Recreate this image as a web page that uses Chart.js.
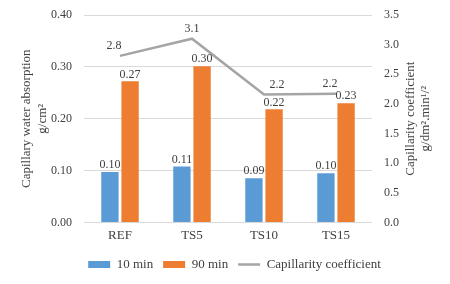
<!DOCTYPE html>
<html>
<head>
<meta charset="utf-8">
<script src="https://cdn.jsdelivr.net/npm/chart.js@4"></script>
<style>
  html, body { margin: 0; padding: 0; background: #fff; }
  #wrap { width: 450px; height: 284px; }
</style>
</head>
<body>
<div id="wrap"><canvas id="myChart"></canvas></div>
<script>
// chart data
const categories = ['REF', 'TS5', 'TS10', 'TS15'];
const abs10min = [0.097, 0.108, 0.085, 0.095];
const abs90min = [0.272, 0.301, 0.218, 0.230];
const capCoef = [2.81, 3.10, 2.16, 2.17];
const leftTicks = [0, 0.1, 0.2, 0.3, 0.4];
const rightTicks = [0, 0.5, 1, 1.5, 2, 2.5, 3, 3.5];

const fontFam = '"Liberation Serif", "Times New Roman", serif';
const txtColor = '#404040';

/* label offsets for the line values (excel nudges them a bit) */
const lineLabelDx = [-6, 0, 13, -6];

const labelPlugin = {
  id: 'valueLabels',
  afterDatasetsDraw(chart) {
    const ctx = chart.ctx;
    ctx.save();
    ctx.font = '12px ' + fontFam;
    ctx.fillStyle = txtColor;
    ctx.textAlign = 'center';
    ctx.textBaseline = 'bottom';
    chart.data.datasets.forEach(function(ds, i) {
      const meta = chart.getDatasetMeta(i);
      meta.data.forEach(function(el, j) {
        if (ds.type === 'line') {
          ctx.fillText(ds.data[j].toFixed(1), el.x + lineLabelDx[j], el.y - 4);
        } else {
          ctx.fillText(ds.data[j].toFixed(2), el.x, el.y - 1);
        }
      });
    });
    ctx.restore();
  },
  afterDraw(chart) {
    /* right axis title reads bottom-to-top like the left one */
    const s = chart.scales.y2;
    const ctx = chart.ctx;
    ctx.save();
    ctx.font = '13px ' + fontFam;
    ctx.fillStyle = txtColor;
    ctx.textAlign = 'center';
    ctx.textBaseline = 'middle';
    const cy = (s.top + s.bottom) / 2;
    ctx.translate(s.left + 39, cy);
    ctx.rotate(-Math.PI / 2);
    ctx.fillText('Capillarity coefficient', 0, 0);
    ctx.fillText('g/dm\u00B2.min\u00B9/\u00B2', 0, 15);
    ctx.restore();
  }
};

const ctx = document.getElementById('myChart').getContext('2d');
const myChart = new Chart(ctx, {
  type: 'bar',
  data: {
    labels: categories,
    datasets: [
      {
        label: '10 min',
        data: abs10min,
        backgroundColor: '#5B9BD5',
        yAxisID: 'y',
        pointStyle: 'rect',
        barPercentage: 0.86,
        categoryPercentage: 0.56,
        order: 2
      },
      {
        label: '90 min',
        data: abs90min,
        backgroundColor: '#ED7D31',
        yAxisID: 'y',
        pointStyle: 'rect',
        barPercentage: 0.86,
        categoryPercentage: 0.56,
        order: 2
      },
      {
        type: 'line',
        label: 'Capillarity coefficient',
        data: capCoef,
        borderColor: '#A5A5A5',
        backgroundColor: '#A5A5A5',
        borderWidth: 2.5,
        pointRadius: 0,
        pointStyle: 'line',
        tension: 0,
        yAxisID: 'y2',
        order: 1
      }
    ]
  },
  options: {
    responsive: true,
    maintainAspectRatio: false,
    animation: false,
    layout: { padding: { top: 15, left: 19, right: 0, bottom: 3 } },
    scales: {
      x: {
        grid: { display: false, drawTicks: false },
        border: { display: false },
        ticks: { color: txtColor, font: { family: fontFam, size: 13 }, padding: 5 }
      },
      y: {
        position: 'left',
        min: 0, max: 0.4,
        afterBuildTicks: function(s) { s.ticks = leftTicks.map(v => ({ value: v })); },
        afterFit: function(s) { s.width = 65; s.paddingTop = 0; },
        grid: { color: '#D9D9D9', drawTicks: false },
        border: { display: false },
        ticks: {
          color: txtColor, padding: 12,
          font: { family: fontFam, size: 12 },
          callback: v => v.toFixed(2)
        },
        title: {
          display: true,
          text: ['Capillary water absorption', 'g/cm\u00B2'],
          color: txtColor,
          font: { family: fontFam, size: 13 },
          padding: 0
        }
      },
      y2: {
        position: 'right',
        min: 0, max: 3.5,
        afterBuildTicks: function(s) { s.ticks = rightTicks.map(v => ({ value: v })); },
        afterFit: function(s) { s.width = 78; s.paddingTop = 0; },
        grid: { display: false, drawTicks: false },
        border: { display: false },
        ticks: {
          color: txtColor, padding: 12,
          font: { family: fontFam, size: 12 },
          callback: v => v.toFixed(1)
        }
      }
    },
    plugins: {
      legend: {
        position: 'bottom',
        labels: {
          usePointStyle: true,
          pointStyleWidth: 22,
          boxHeight: 7,
          color: txtColor,
          font: { family: fontFam, size: 13 },
          padding: 10,
          sort: (a, b) => a.datasetIndex - b.datasetIndex
        }
      },
      tooltip: { enabled: false }
    }
  },
  plugins: [labelPlugin]
});
</script>
</body>
</html>
